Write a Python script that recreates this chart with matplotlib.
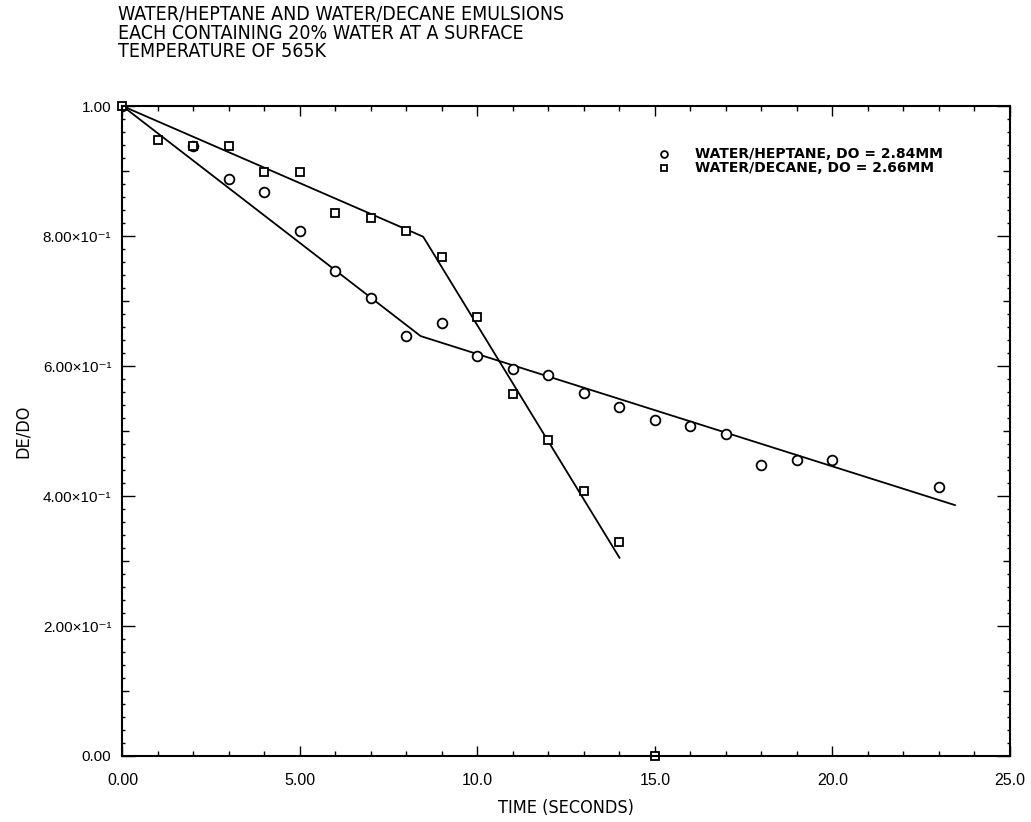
import matplotlib
matplotlib.use('Agg')
import matplotlib.pyplot as plt
from matplotlib.ticker import MultipleLocator, FixedLocator

# Measured droplet sizes (DE/DO) against time
heptane_t = [0, 2, 3, 4, 5, 6, 7, 8, 9, 10, 11, 12, 13, 14, 15, 16, 17, 18, 19, 20, 23]
heptane_d = [1.0, 0.938, 0.888, 0.868, 0.808, 0.746, 0.705, 0.646, 0.666, 0.615, 0.595,
             0.586, 0.558, 0.537, 0.517, 0.507, 0.496, 0.447, 0.456, 0.455, 0.414]

decane_t = [0, 1, 2, 3, 4, 5, 6, 7, 8, 9, 10, 11, 12, 13, 14, 15]
decane_d = [1.0, 0.947, 0.938, 0.938, 0.898, 0.898, 0.836, 0.827, 0.808, 0.768, 0.676,
            0.557, 0.486, 0.407, 0.33, 0.0]

# Piecewise fits
heptane_fit_t = [0, 8.4, 23.45]
heptane_fit_d = [1.0, 0.646, 0.386]
decane_fit_t = [0, 8.47, 14.0]
decane_fit_d = [1.0, 0.799, 0.305]

x_ticks = [0, 5, 10, 15, 20, 25]
x_labels = ['0.00', '5.00', '10.0', '15.0', '20.0', '25.0']
y_ticks = [0.0, 0.2, 0.4, 0.6, 0.8, 1.0]
y_labels = ['0.00', '2.00×10⁻¹', '4.00×10⁻¹', '6.00×10⁻¹', '8.00×10⁻¹', '1.00']

title_lines = ['WATER/HEPTANE AND WATER/DECANE EMULSIONS',
               'EACH CONTAINING 20% WATER AT A SURFACE',
               'TEMPERATURE OF 565K']

label_font = dict(family=['DejaVu Sans'], fontstretch='condensed', fontweight='light')
tick_font = ['Liberation Sans', 'DejaVu Sans']

fig = plt.figure(figsize=(10.31, 8.22), dpi=100)
ax = fig.add_axes([0.1188, 0.0803, 0.8608, 0.7907])

ax.plot(heptane_fit_t, heptane_fit_d, color='black', lw=1.3)
ax.plot(decane_fit_t, decane_fit_d, color='black', lw=1.3)
ax.plot(heptane_t, heptane_d, 'o', ms=7, mfc='white', mec='black', mew=1.3,
        label='WATER/HEPTANE, DO = 2.84MM')
ax.plot(decane_t, decane_d, 's', ms=6, mfc='white', mec='black', mew=1.3,
        label='WATER/DECANE, DO = 2.66MM', clip_on=False)

ax.set_xlim(0, 25)
ax.set_ylim(0, 1)

for side in ax.spines.values():
    side.set_linewidth(1.5)

ax.xaxis.set_major_locator(FixedLocator(x_ticks))
ax.xaxis.set_minor_locator(MultipleLocator(1))
ax.set_xticklabels(x_labels, fontsize=11.5, family=tick_font)

# y major ticks every 0.1, labels only on every other one
y_major = [i / 10 for i in range(11)]
ax.yaxis.set_major_locator(FixedLocator(y_major))
ax.yaxis.set_minor_locator(MultipleLocator(0.02))
ax.set_yticklabels([y_labels[i // 2] if i % 2 == 0 else '' for i in range(11)],
                   fontsize=11, family=tick_font)

ax.tick_params(which='both', direction='in', top=True, right=True, width=1.0)
ax.tick_params(axis='x', which='major', length=7, pad=12)
ax.tick_params(axis='x', which='minor', length=3.5)
ax.tick_params(axis='y', which='major', length=9.5, pad=8)
ax.tick_params(axis='y', which='minor', length=2.5)
for i, tick in enumerate(ax.yaxis.get_major_ticks()):
    if i % 2 == 1:
        tick.tick1line.set_markersize(5)
        tick.tick2line.set_markersize(5)

ax.set_xlabel('TIME (SECONDS)', fontsize=13, labelpad=8, **label_font)
ax.set_ylabel('DE/DO', fontsize=13, labelpad=8, **label_font)

fig.text(0.1145, 0.994, '\n'.join(title_lines), ha='left', va='top',
         fontsize=14, linespacing=0.98, **label_font)

leg = ax.legend(loc='upper left', bbox_to_anchor=(0.598, 0.947), frameon=False,
                handlelength=0.6, handletextpad=1.9, labelspacing=0.0,
                markerscale=0.7, borderpad=0,
                prop=dict(family=['DejaVu Sans'], weight='bold', size=10))

fig.savefig('out.png', dpi=100)
